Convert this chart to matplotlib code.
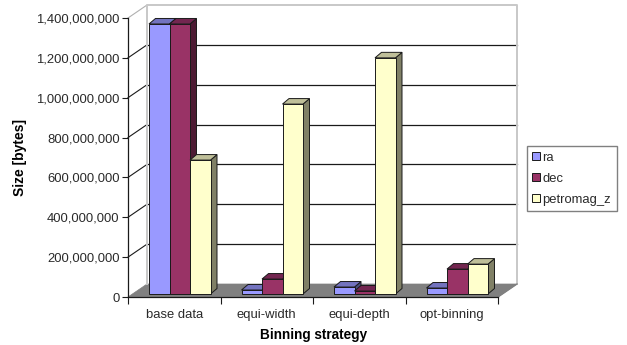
import matplotlib
matplotlib.use("Agg")
import matplotlib.pyplot as plt
import numpy as np
from matplotlib.patches import Patch, Polygon
from matplotlib.transforms import Affine2D, IdentityTransform
from matplotlib.ticker import FuncFormatter

plt.rcParams['font.family'] = ['Liberation Sans', 'DejaVu Sans']

categories = ["base data", "equi-width", "equi-depth", "opt-binning"]
ra = [1355000000, 20000000, 35000000, 30000000]
dec = [1355000000, 75000000, 15000000, 125000000]
petromag_z = [672000000, 953000000, 1185000000, 150000000]
y_ticks = [0, 200000000, 400000000, 600000000, 800000000, 1000000000, 1200000000, 1400000000]

W, H = 627, 345
TEXT = "#2a2a2a"
EDGE = "#1a1a1a"
# front, top, side face of each series
series = [
    ("ra", ra, "#9999FF", "#7373BF", "#4C4C7F"),
    ("dec", dec, "#993366", "#732650", "#4D1A33"),
    ("petromag_z", petromag_z, "#FFFFCC", "#BFBF99", "#808066"),
]

fig = plt.figure(figsize=(W / 100, H / 100), dpi=100, facecolor="white")
ax = fig.add_axes([128 / W, (H - 297) / H, 370 / W, 279 / H])
ax.set_xlim(0, 4)
ax.set_ylim(0, 1400000000)
ax.patch.set_visible(False)

# pixel offsets of the 3d look
back = (19, 13)
bar_shift = (5.5, 3)
bar_depth = (6.5, 5.5)
bar_w = 20.5 / 92.5


def to_px(x, y, shift=(0, 0)):
    px = ax.transData.transform((x, y))
    return px[0] + shift[0], px[1] + shift[1]


def add_poly(pts, **kw):
    ax.add_patch(Polygon(pts, closed=True, transform=IdentityTransform(), clip_on=False, **kw))


back_tr = ax.transData + Affine2D().translate(*back)
shift_tr = ax.transData + Affine2D().translate(*bar_shift)

# floor
add_poly([to_px(0, 0), to_px(4, 0), to_px(4, 0, back), to_px(0, 0, back)],
         facecolor="#808080", edgecolor="#808080", lw=0.5, zorder=1)

# back wall gridlines and left wall connectors
for t in y_ticks[1:-1]:
    ax.plot([0, 4], [t, t], color="#1a1a1a", lw=0.9, transform=back_tr, clip_on=False, zorder=1)
for t in y_ticks[1:]:
    p0 = to_px(0, t)
    p1 = to_px(0, t, back)
    col = "#b0b0b0" if t == y_ticks[-1] else "#1a1a1a"
    ax.plot([p0[0], p1[0]], [p0[1], p1[1]], color=col, lw=0.8,
            transform=IdentityTransform(), clip_on=False, zorder=1)

# wall outline
top = y_ticks[-1]
ax.plot([0, 0, 4, 4], [0, top, top, 0], color="#c8c8c8", lw=1.4,
        transform=back_tr, clip_on=False, zorder=1.5)
p0 = to_px(4, 0)
p1 = to_px(4, 0, back)
ax.plot([p0[0], p1[0]], [p0[1], p1[1]], color="#808080", lw=1,
        transform=IdentityTransform(), clip_on=False, zorder=1.5)

# bars, left to right so each one covers the side of the previous
x_pos = np.arange(len(categories)) + 0.5
z = 2.0
for c in range(len(categories)):
    for s, (name, vals, front, top_col, side_col) in enumerate(series):
        x0 = x_pos[c] + (s - 1.5) * bar_w
        x1 = x0 + bar_w
        v = vals[c]
        sh = bar_shift
        d = (sh[0] + bar_depth[0], sh[1] + bar_depth[1])
        add_poly([to_px(x1, 0, sh), to_px(x1, v, sh), to_px(x1, v, d), to_px(x1, 0, d)],
                 facecolor=side_col, edgecolor=EDGE, lw=0.7, zorder=z)
        add_poly([to_px(x0, v, sh), to_px(x1, v, sh), to_px(x1, v, d), to_px(x0, v, d)],
                 facecolor=top_col, edgecolor=EDGE, lw=0.7, zorder=z + 0.1)
        ax.bar(x0, v, bar_w, align="edge", color=front, edgecolor=EDGE, lw=0.7,
               transform=shift_tr, clip_on=False, zorder=z + 0.2)
        z += 0.3

# axes
for sp in ("top", "right"):
    ax.spines[sp].set_visible(False)
for sp in ("left", "bottom"):
    ax.spines[sp].set_color("#1a1a1a")
    ax.spines[sp].set_linewidth(0.9)
    ax.spines[sp].set_zorder(20)

ax.set_yticks(y_ticks)
ax.yaxis.set_major_formatter(FuncFormatter(lambda v, pos: f"{int(v):,}"))
ax.set_xticks(range(len(categories) + 1))
ax.set_xticklabels([])
ax.set_xticks(x_pos, minor=True)
ax.set_xticklabels(categories, minor=True)
ax.tick_params(axis="y", length=4, width=0.8, color="#1a1a1a", labelsize=9.4, labelcolor=TEXT, pad=2)
ax.tick_params(axis="x", which="major", length=5, width=0.8, color="#1a1a1a")
ax.tick_params(axis="x", which="minor", length=0, labelsize=9.4, labelcolor=TEXT, pad=8.5)

fig.text(20 / W, 1 - 157 / H, "Size [bytes]", rotation=90, ha="center", va="center",
         fontsize=10, fontweight="bold", color="#000000")
fig.text(314 / W, 1 - 335 / H, "Binning strategy", ha="center", va="center",
         fontsize=9.8, fontweight="bold", color="#000000")

handles = [Patch(facecolor=f, edgecolor=EDGE, lw=0.7, label=n) for n, _, f, _, _ in series]
leg = fig.legend(handles=handles, loc="lower left",
                 bbox_to_anchor=(527 / W, 1 - 211 / H, 90 / W, 64 / H), mode="expand",
                 fancybox=False, framealpha=1, edgecolor="#808080", fontsize=9.4,
                 handlelength=0.6, handleheight=0.6, handletextpad=0.15,
                 labelspacing=0.68, borderpad=0.42, borderaxespad=0)
leg.get_frame().set_linewidth(1.0)
for t in leg.get_texts():
    t.set_color(TEXT)

fig.savefig("out.png", dpi=100)
